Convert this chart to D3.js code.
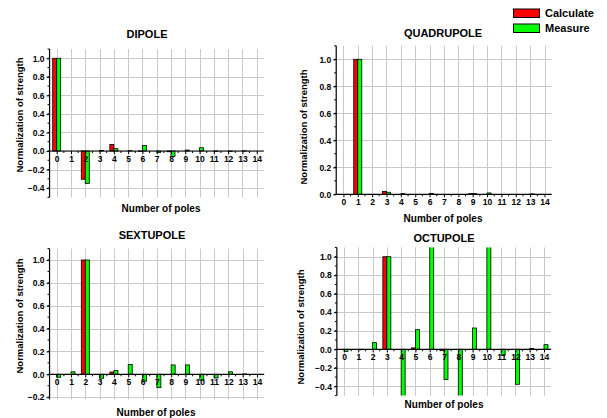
<!DOCTYPE html>
<html><head><meta charset="utf-8">
<script src="https://cdn.jsdelivr.net/npm/d3@7"></script>
<style>body{margin:0;background:#fff}svg{display:block}text{font-family:"Liberation Sans",Arial,sans-serif;font-weight:bold}</style>
</head><body>
<script>
const poles = d3.range(0, 15);
const dipoleCalc    = [1.0, 0, -0.305, 0, 0.07, 0, -0.004, 0, -0.008, 0, 0, 0, 0, 0, 0];
const dipoleMeas    = [1.0, 0, -0.35, 0.005, 0.025, 0.003, 0.06, -0.015, -0.06, 0.01, 0.035, -0.004, -0.004, 0.002, 0];
const quadCalc      = [0, 1.0, 0, 0.022, 0, 0, 0, 0, 0, 0.005, 0, 0, 0, 0, 0];
const quadMeas      = [0, 1.0, 0, 0.015, 0.005, 0, 0.006, 0, 0, 0.005, 0.01, 0, 0, 0.003, 0];
const sextCalc      = [0, 0, 1.0, 0, 0.02, 0, 0, 0, 0, 0, 0, 0, 0, 0, 0];
const sextMeas      = [-0.026, 0.022, 1.0, -0.034, 0.033, 0.087, -0.061, -0.117, 0.082, 0.082, -0.052, -0.032, 0.022, 0.003, 0];
const octCalc       = [0, 0, 0, 1.0, 0, 0.015, 0, -0.015, 0, 0, 0, 0, 0, 0, 0];
const octMeas       = [-0.022, -0.005, 0.072, 1.0, -0.6, 0.212, 1.5, -0.327, -0.7, 0.23, 1.4, -0.068, -0.378, 0.01, 0.05];
const titles = ["DIPOLE", "QUADRUPOLE", "SEXTUPOLE", "OCTUPOLE"];
const yDomains = [[-0.5, 1.1], [0, 1.1], [-0.22, 1.1], [-0.5, 1.1]];
const legendLabels = ["Calculate", "Measure"];
const xLabel = "Number of poles";
const yLabel = "Normalization of strength";

const colors = ["#ff0000", "#00ff00"];
const panels = [
  {calc: dipoleCalc, meas: dipoleMeas, x0: 56.7, x14: 256.7, y1: 58.3, y0: 151, title:[147,34], yl:[20,115], xl:[161,208]},
  {calc: quadCalc, meas: quadMeas, x0: 343.4, x14: 544.5, y1: 59.3, y0: 194.3, title:[443,33], yl:[304,127], xl:[443,218]},
  {calc: sextCalc, meas: sextMeas, x0: 56.7, x14: 257, y1: 260, y0: 374.3, title:[152,235], yl:[20,316], xl:[156,412]},
  {calc: octCalc, meas: octMeas, x0: 344, x14: 544, y1: 256.7, y0: 349.3, title:[444,238], yl:[301,327], xl:[444,404]}
];

const svg = d3.select("body").append("svg").attr("width", 607).attr("height", 418);

panels.forEach((p, i) => {
  const unit = (p.x14 - p.x0) / 14;
  const x = d3.scaleLinear().domain([-0.5, 14.5]).range([p.x0 - 0.5*unit, p.x14 + 0.5*unit]);
  const yu = p.y0 - p.y1;
  const dom = yDomains[i];
  const y = d3.scaleLinear().domain(dom).range([p.y0 - dom[0]*yu, p.y0 - dom[1]*yu]);
  const g = svg.append("g");
  const [xa, xb] = x.range();
  const [ya, yb] = y.range();
  const clipId = "clip" + i;
  svg.append("clipPath").attr("id", clipId).append("rect")
    .attr("x", xa).attr("y", yb).attr("width", xb - xa).attr("height", ya - yb);

  // grid
  const majorY = d3.range(Math.ceil(dom[0]/0.2 - 1e-9)*0.2, dom[1] + 1e-9, 0.2).map(v => +v.toFixed(2));
  g.selectAll(".hg").data(majorY).join("line")
    .attr("x1", xa).attr("x2", xb).attr("y1", d => Math.round(y(d)) + 0.5).attr("y2", d => Math.round(y(d)) + 0.5)
    .attr("stroke", "#c8c8c8").attr("stroke-width", 1);
  g.selectAll(".vg").data(poles).join("line")
    .attr("x1", d => Math.round(x(d)) + 0.5).attr("x2", d => Math.round(x(d)) + 0.5).attr("y1", yb).attr("y2", ya)
    .attr("stroke", "#c8c8c8").attr("stroke-width", 1);

  // bars
  const bw = 0.28;
  const bars = g.append("g").attr("clip-path", `url(#${clipId})`);
  [p.calc, p.meas].forEach((series, s) => {
    bars.selectAll(".b" + s).data(poles).join("rect")
      .attr("x", d => s === 0 ? x(d - bw) : x(d))
      .attr("width", x(bw) - x(0))
      .attr("y", d => y(Math.max(0, series[d])))
      .attr("height", d => Math.abs(y(series[d]) - y(0)))
      .attr("fill", colors[s]).attr("stroke", "#000").attr("stroke-width", 0.8);
  });

  // y axis
  const yAxis = d3.axisLeft(y).tickValues(majorY).tickSize(3).tickPadding(2).tickFormat(d3.format(".1f"));
  const ya_g = g.append("g").attr("transform", `translate(${xa},0)`).call(yAxis);
  const minorY = d3.range(Math.ceil(dom[0]/0.1 - 1e-9)*0.1, dom[1] + 1e-9, 0.1).map(v => +v.toFixed(2));
  g.selectAll(".my").data(minorY).join("line")
    .attr("x1", xa - 2).attr("x2", xa).attr("y1", d => y(d)).attr("y2", d => y(d)).attr("stroke", "#000");
  ya_g.select(".domain").attr("d", `M0,${ya}V${yb}`).attr("stroke-width", 1.2);
  ya_g.selectAll("text").style("font-size", "8.5px").style("font-weight", "bold").style("font-family", '"Liberation Sans",Arial,sans-serif');

  // x axis at zero
  const xAxis = d3.axisBottom(x).tickValues(poles).tickSize(3).tickPadding(2).tickFormat(d3.format("d"));
  const xa_g = g.append("g").attr("transform", `translate(0,${y(0)})`).call(xAxis);
  xa_g.select(".domain").attr("d", `M${xa},0H${xb}`).attr("stroke-width", 1.2);
  xa_g.selectAll("text").style("font-size", "8.5px").style("font-weight", "bold").style("font-family", '"Liberation Sans",Arial,sans-serif');
  g.selectAll(".mx").data(poles.map(d => d + 0.5).slice(0, 14)).join("line")
    .attr("x1", d => x(d)).attr("x2", d => x(d)).attr("y1", y(0)).attr("y2", y(0) + 2).attr("stroke", "#000");

  // titles
  g.append("text").attr("x", p.title[0]).attr("y", p.title[1]).attr("text-anchor", "middle").attr("dy", "0.35em")
    .style("font-size", "11px").text(titles[i]);
  g.append("text").attr("transform", `translate(${p.yl[0]},${p.yl[1]}) rotate(-90)`).attr("text-anchor", "middle").attr("dy", "0.35em")
    .style("font-size", "9.5px").text(yLabel);
  g.append("text").attr("x", p.xl[0]).attr("y", p.xl[1]).attr("text-anchor", "middle").attr("dy", "0.35em")
    .style("font-size", "10px").text(xLabel);
});

// legend
legendLabels.forEach((l, i) => {
  const ly = 9 + i * 15;
  svg.append("rect").attr("x", 513.5).attr("y", ly).attr("width", 26).attr("height", 8.5)
    .attr("fill", colors[i]).attr("stroke", "#000").attr("stroke-width", 1);
  svg.append("text").attr("x", 545).attr("y", ly + 4.5).attr("dy", "0.35em").style("font-size", "11px").text(l);
});
</script>
</body></html>
